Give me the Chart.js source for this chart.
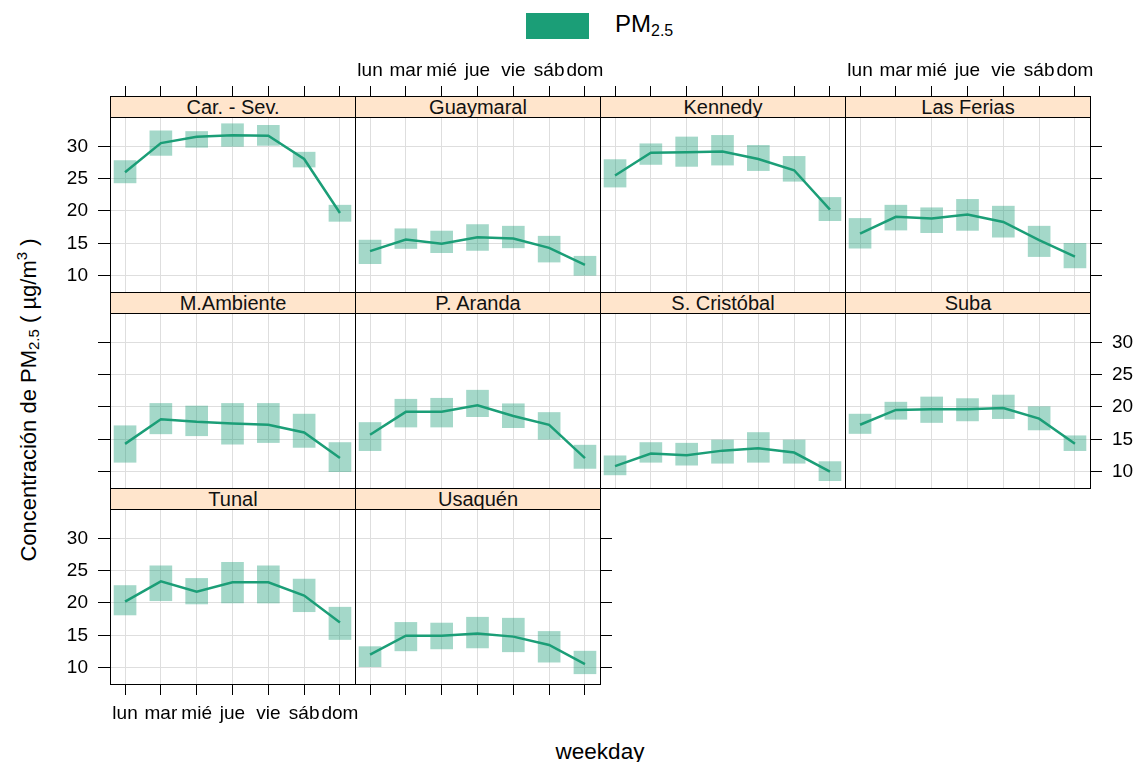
<!DOCTYPE html>
<html>
<head>
<meta charset="utf-8">
<script src="https://cdn.jsdelivr.net/npm/chart.js@4.4.0/dist/chart.umd.min.js"></script>
<style>
    body { margin: 0; background: #fff; width: 1140px; height: 762px; position: relative; overflow: hidden;
           font-family: "Liberation Sans", Arial, sans-serif; color: #000; }
    canvas { position: absolute; }
    .strip { position: absolute; z-index: 2; background: #ffe5cc; border: 1px solid #000; box-sizing: border-box;
             text-align: center; font-size: 20px; line-height: 20px; color: #111; }
    .legend-box { position: absolute; left: 526px; top: 13px; width: 63px; height: 26px; background: #1b9e77; }
    .legend-text { position: absolute; left: 615px; top: 10px; font-size: 24px; }
    .legend-text sub { font-size: 16px; vertical-align: -4px; }
    .ytitle { position: absolute; left: 27px; top: 400px; transform: translate(-50%, -50%) rotate(-90deg);
              white-space: nowrap; font-size: 22px; }
    .ytitle sub { font-size: 15px; vertical-align: -3px; }
    .ytitle sup { font-size: 15px; vertical-align: 9px; }
    .xtitle { position: absolute; left: 600px; top: 752px; transform: translate(-50%, -50%); font-size: 22.5px; }
</style>
</head>
<body>
<div class="legend-box"></div>
<div class="legend-text">PM<sub>2.5</sub></div>
<div class="ytitle">Concentración de PM<sub>2.5</sub> ( µg/m<sup>3</sup> )</div>
<div class="xtitle">weekday</div>
<script>
// PM2.5 by weekday, one panel per station (lattice-style layout)

const stations = ['Car. - Sev.', 'Guaymaral', 'Kennedy', 'Las Ferias', 'M.Ambiente',
                  'P. Aranda', 'S. Cristóbal', 'Suba', 'Tunal', 'Usaquén'];
const days = ['lun', 'mar', 'mié', 'jue', 'vie', 'sáb', 'dom'];
const yTicks = [10, 15, 20, 25, 30];

// mean per weekday
const meanPM = [
    [26.0, 30.5, 31.5, 31.7, 31.65, 28.05, 19.7],
    [13.8, 15.6, 14.95, 15.95, 15.75, 14.3, 11.65],
    [25.5, 29.0, 29.1, 29.2, 28.05, 26.3, 20.2],
    [16.5, 19.1, 18.85, 19.45, 18.3, 15.5, 12.95],
    [14.3, 18.1, 17.7, 17.45, 17.25, 16.05, 12.1],
    [15.7, 19.25, 19.25, 20.25, 18.6, 17.25, 12.1],
    [10.85, 12.8, 12.55, 13.25, 13.6, 12.95, 10.0],
    [17.25, 19.55, 19.65, 19.65, 19.85, 18.2, 14.3],
    [20.2, 23.35, 21.75, 23.2, 23.2, 21.15, 17.0],
    [12.0, 14.95, 14.95, 15.3, 14.8, 13.5, 10.55]
];
// lower bound of the interval
const lowPM = [
    [24.35, 28.6, 29.85, 30.0, 30.15, 26.8, 18.4],
    [11.85, 14.2, 13.55, 13.9, 14.3, 12.1, 10.05],
    [23.7, 27.2, 26.9, 27.1, 26.25, 24.6, 18.5],
    [14.25, 17.05, 16.65, 17.0, 15.95, 12.95, 11.2],
    [11.45, 15.85, 15.55, 14.25, 14.5, 13.75, 10.0],
    [13.25, 16.9, 16.9, 18.5, 16.8, 15.0, 10.5],
    [9.5, 11.45, 11.0, 11.3, 11.45, 11.3, 8.6],
    [15.9, 18.1, 17.6, 17.85, 18.2, 16.45, 13.25],
    [18.15, 20.35, 19.85, 20.0, 20.0, 18.65, 14.35],
    [10.15, 12.6, 12.9, 13.05, 12.45, 10.85, 9.05]
];
// upper bound of the interval
const highPM = [
    [27.8, 32.4, 32.3, 33.5, 33.25, 29.1, 20.9],
    [15.5, 17.25, 16.9, 17.9, 17.65, 16.1, 13.0],
    [27.95, 30.4, 31.45, 31.7, 30.15, 28.45, 22.1],
    [18.85, 20.9, 20.5, 21.8, 20.75, 17.65, 15.0],
    [17.1, 20.55, 20.15, 20.55, 20.55, 18.9, 14.5],
    [17.6, 21.2, 21.35, 22.6, 20.5, 19.15, 14.1],
    [12.45, 14.5, 14.4, 14.9, 16.05, 14.9, 11.55],
    [18.9, 20.75, 21.55, 21.3, 21.85, 20.05, 15.55],
    [22.7, 25.75, 23.8, 26.3, 25.75, 23.7, 19.35],
    [13.25, 17.0, 16.9, 17.8, 17.65, 15.6, 12.55]
];

// layout
const colX = [110, 355, 600, 845];
const rowY = [96, 292, 488];      // strip tops
const PANEL_W = 245, STRIP_H = 21, PANEL_H = 175;
const ML = 60, MR = 60, MT = 50, MB = 50;
const Y_MIN = 7.47, Y_PANEL_MAX = 34.54;
const Y_MAX = Y_MIN + (Y_PANEL_MAX - Y_MIN) * (STRIP_H + PANEL_H) / PANEL_H;
const X_MIN = -0.42, X_MAX = 6.42;

const GREEN = '#1b9e77';
const tickFont = { family: '"Liberation Sans", Arial, sans-serif', size: 19 };

function xTicks(s) { s.ticks = days.map((d, i) => ({ value: i })); }
function yTickList(s) { s.ticks = yTicks.map(v => ({ value: v })); }

function makePanel(k) {
    const col = k % 4, row = Math.floor(k / 4);
    const isRightmost = (k === 3 || k === 7 || k === 9);

    const topTicks = row === 0, topLabels = row === 0 && (col === 1 || col === 3);
    const botTicks = row === 2, botLabels = k === 8;
    const leftTicks = col === 0, leftLabels = col === 0 && row !== 1;
    const rightTicks = isRightmost, rightLabels = row === 1 && isRightmost;

    const canvas = document.createElement('canvas');
    const w = PANEL_W + ML + MR, h = STRIP_H + PANEL_H + MT + MB;
    canvas.width = w; canvas.height = h;
    canvas.style.left = (colX[col] - ML) + 'px';
    canvas.style.top = (rowY[row] - MT) + 'px';
    canvas.style.width = w + 'px'; canvas.style.height = h + 'px';
    document.body.appendChild(canvas);

    const strip = document.createElement('div');
    strip.className = 'strip';
    strip.style.left = colX[col] + 'px';
    strip.style.top = rowY[row] + 'px';
    strip.style.width = (PANEL_W + 1) + 'px';
    strip.style.height = (STRIP_H + 1) + 'px';
    strip.textContent = stations[k];
    document.body.appendChild(strip);

    const border = { color: '#000', width: 1 };

    new Chart(canvas, {
        type: 'bar',
        data: {
            datasets: [
                {
                    type: 'line',
                    data: days.map((d, i) => ({ x: i, y: meanPM[k][i] })),
                    borderColor: GREEN,
                    borderWidth: 2.5,
                    pointRadius: 0,
                    tension: 0,
                    order: 1
                },
                {
                    type: 'bar',
                    data: days.map((d, i) => ({ x: i, y: [lowPM[k][i], highPM[k][i]] })),
                    backgroundColor: 'rgba(27, 158, 119, 0.4)',
                    borderWidth: 0,
                    barThickness: 22,
                    order: 2
                }
            ]
        },
        options: {
            responsive: false,
            animation: false,
            events: [],
            layout: { padding: 0, autoPadding: false },
            plugins: { legend: { display: false }, tooltip: { enabled: false } },
            scales: {
                x: {
                    type: 'linear', position: 'bottom', min: X_MIN, max: X_MAX, offset: false,
                    afterBuildTicks: xTicks,
                    afterFit: s => { s.height = MB; },
                    grid: { color: '#dedede', offset: false, drawTicks: botTicks, tickLength: 11, tickColor: '#000' },
                    border: border,
                    ticks: { display: botLabels, autoSkip: false, maxRotation: 0, padding: 7,
                             font: tickFont, color: '#000', callback: v => days[v] }
                },
                x2: {
                    type: 'linear', axis: 'x', position: 'top', min: X_MIN, max: X_MAX, offset: false,
                    afterBuildTicks: xTicks,
                    afterFit: s => { s.height = MT; },
                    grid: { drawOnChartArea: false, offset: false, drawTicks: topTicks, tickLength: 10, tickColor: '#000' },
                    border: border,
                    ticks: { display: topLabels, autoSkip: false, maxRotation: 0, padding: 4,
                             font: tickFont, color: '#000', callback: v => days[v] }
                },
                y: {
                    type: 'linear', position: 'left', min: Y_MIN, max: Y_MAX, beginAtZero: false,
                    afterBuildTicks: yTickList,
                    afterFit: s => { s.width = ML; },
                    grid: { color: '#dedede', drawTicks: leftTicks, tickLength: 12, tickColor: '#000' },
                    border: border,
                    ticks: { display: leftLabels, padding: 10, font: tickFont, color: '#000' }
                },
                y2: {
                    type: 'linear', axis: 'y', position: 'right', min: Y_MIN, max: Y_MAX,
                    afterBuildTicks: yTickList,
                    afterFit: s => { s.width = MR; },
                    grid: { drawOnChartArea: false, drawTicks: rightTicks, tickLength: 12, tickColor: '#000' },
                    border: border,
                    ticks: { display: rightLabels, padding: 10, font: tickFont, color: '#000' }
                }
            }
        }
    });
}

stations.forEach((s, k) => makePanel(k));
</script>
</body>
</html>
